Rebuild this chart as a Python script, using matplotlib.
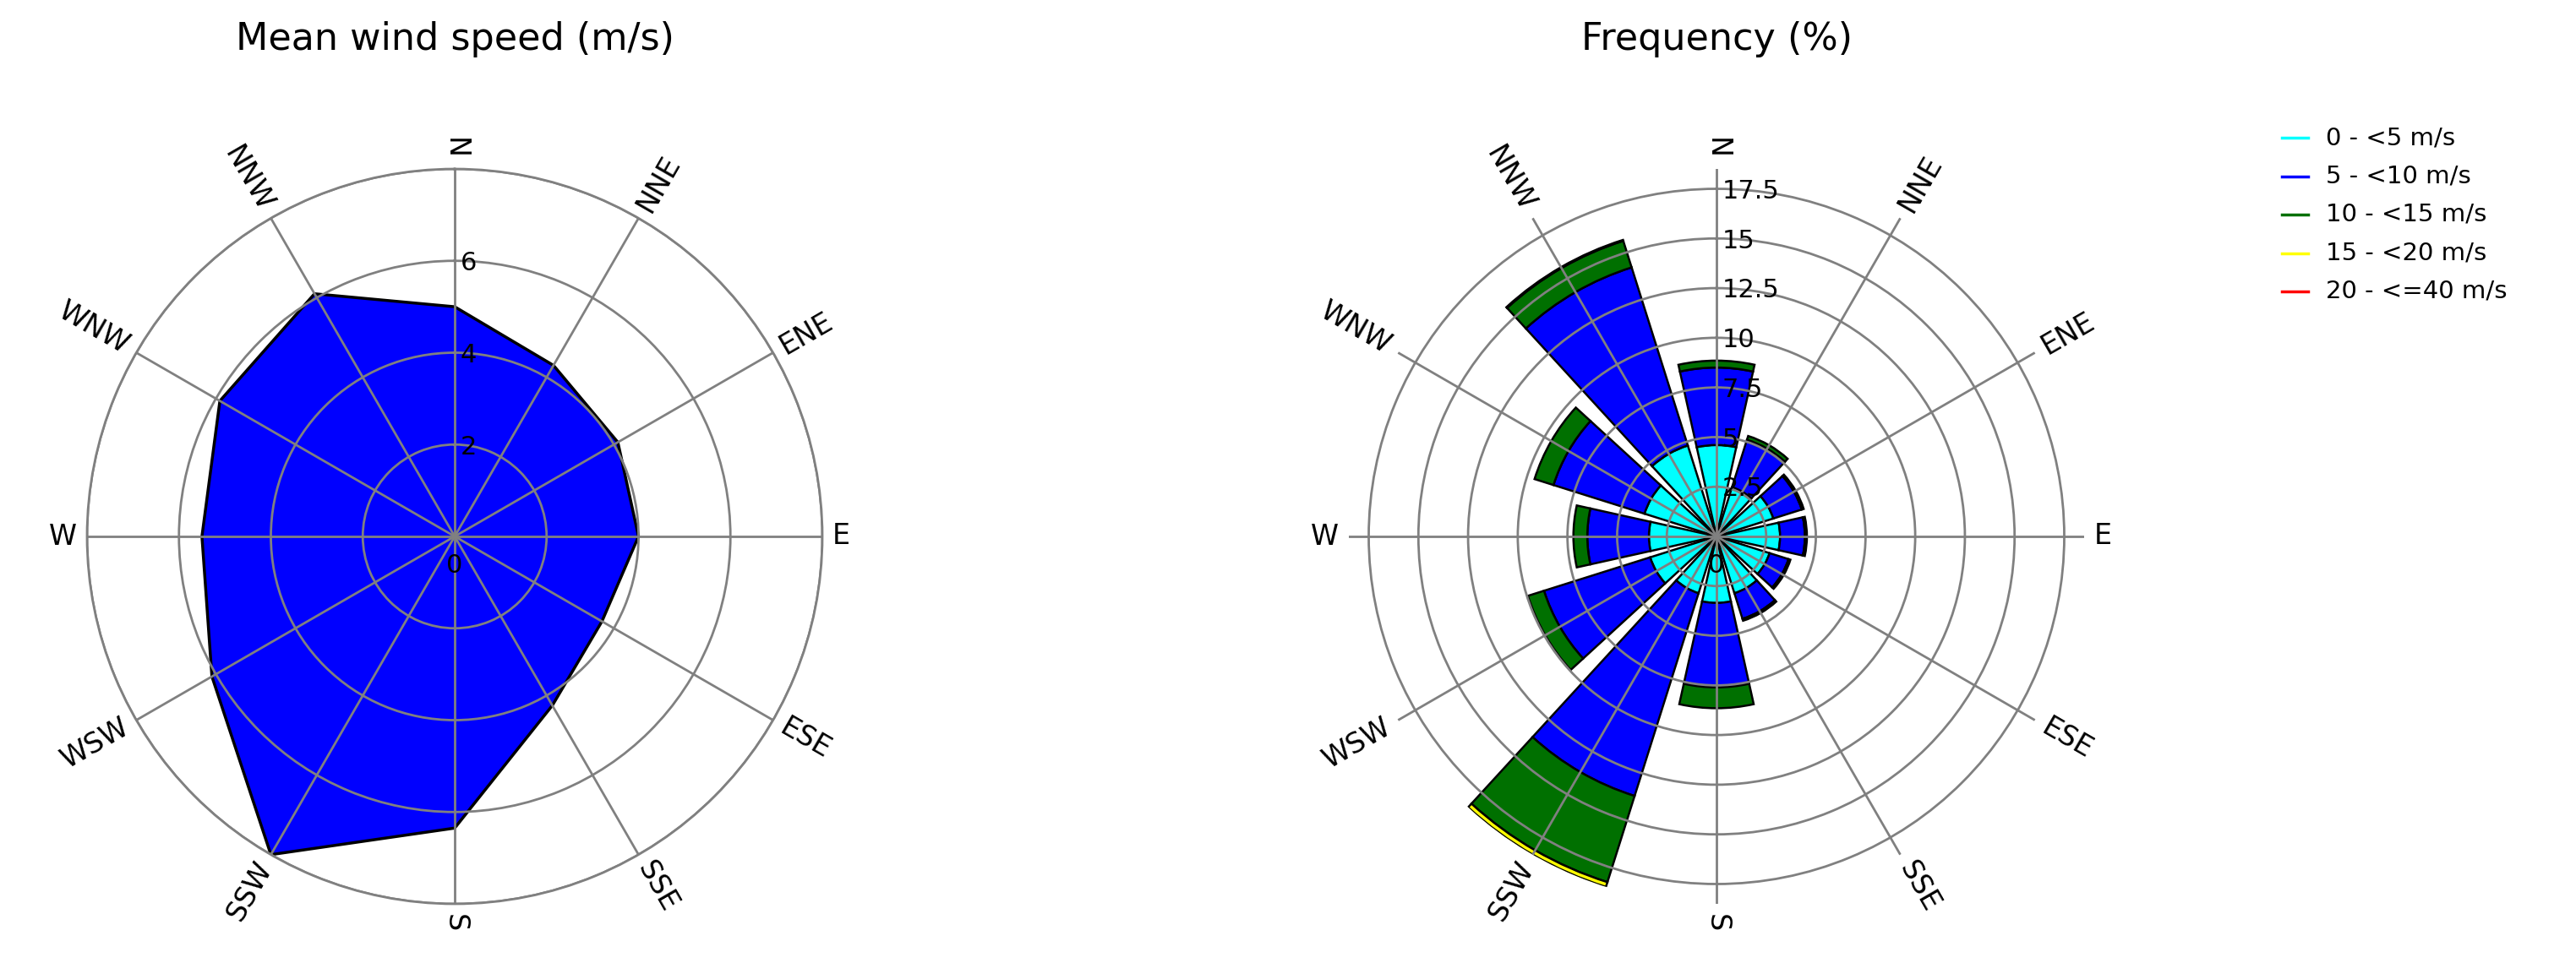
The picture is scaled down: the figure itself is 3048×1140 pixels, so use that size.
import numpy as np
import matplotlib.pyplot as plt
from matplotlib.lines import Line2D


# sectors, clockwise from north
directions = ['N', 'NNE', 'ENE', 'E', 'ESE', 'SSE', 'S', 'SSW', 'WSW', 'W', 'WNW', 'NNW']
bearings = [0, 30, 60, 90, 120, 150, 180, 210, 240, 270, 300, 330]

# left panel: mean wind speed per sector (m/s)
mean_speed = [5.0, 4.3, 4.1, 4.0, 3.7, 4.25, 6.35, 8.0, 6.1, 5.5, 5.9, 6.1]
speed_ticks = [2, 4, 6, 8]
speed_tick_labels = ['0', '2', '4', '6']

# right panel: frequency (%) per speed class and sector
freq_0_5 = [4.6, 2.6, 3.0, 3.2, 2.8, 3.0, 3.35, 3.0, 3.5, 3.4, 3.8, 4.8]
freq_5_10 = [3.9, 2.5, 1.5, 1.25, 1.0, 1.35, 4.25, 10.7, 5.6, 3.1, 4.8, 9.4]
freq_10_15 = [0.35, 0.2, 0.1, 0.1, 0.1, 0.1, 1.05, 4.55, 0.85, 0.7, 1.0, 1.4]
freq_15_20 = [0, 0, 0, 0, 0, 0, 0, 0.25, 0, 0, 0, 0.05]
freq_20_40 = [0, 0, 0, 0, 0, 0, 0, 0, 0, 0, 0, 0]
freq_ticks = [2.5, 5, 7.5, 10, 12.5, 15, 17.5]
freq_tick_labels = ['2.5', '5', '7.5', '10', '12.5', '15', '17.5']

class_labels = ['0 - <5 m/s', '5 - <10 m/s', '10 - <15 m/s', '15 - <20 m/s', '20 - <=40 m/s']
class_colors = ['#00ffff', '#0000ff', '#007000', '#ffff00', '#ff0000']

GRID = '#808080'
W, H = 3048, 1140


def setup_polar(ax, rmax, rings):
    ax.set_theta_zero_location('N')
    ax.set_theta_direction(-1)
    ax.set_ylim(0, rmax)
    ax.set_yticks(rings)
    ax.set_yticklabels([])
    ax.set_xticks(np.deg2rad(bearings))
    ax.set_xticklabels([])
    ax.grid(True, color=GRID, lw=2)
    ax.set_axisbelow(False)


def direction_labels(ax):
    for b, name in zip(bearings, directions):
        rad = np.deg2rad(b)
        ux, uy = np.sin(rad), np.cos(rad)
        rot = ((90 - b + 90) % 180) - 90
        bx, by = np.cos(np.deg2rad(rot)), np.sin(np.deg2rad(rot))
        ha = 'left' if bx * ux + by * uy > 1e-6 else 'right'
        if b == 0:
            ha = 'right'
        ax.text(0.5 + 0.5138 * ux, 0.5 + 0.5138 * uy, name, transform=ax.transAxes,
                rotation=rot, rotation_mode='anchor', ha=ha, va='center',
                fontsize=24, clip_on=False)


def radial_labels(ax, ticks, labels):
    ax.annotate(labels[0], xy=(0, 0), xytext=(0, -25), textcoords='offset points',
                ha='center', va='center', fontsize=22, zorder=5)
    for v, lab in zip(ticks, labels[1:]):
        ax.annotate(lab, xy=(0, v), xytext=(5, -2), textcoords='offset points',
                    ha='left', va='center', fontsize=22, zorder=5)


fig = plt.figure(figsize=(W / 100, H / 100), dpi=100)

# ---- mean wind speed ----
cx1, cx2, cy, rad = 538, 2031, 635, 435
ax1 = fig.add_axes([(cx1 - rad) / W, (H - cy - rad) / H, 2 * rad / W, 2 * rad / H], projection='polar')
setup_polar(ax1, 8, speed_ticks)
theta = np.deg2rad(bearings)
ax1.fill(np.append(theta, theta[0]), np.append(mean_speed, mean_speed[0]),
         facecolor='#0000ff', edgecolor='black', lw=2.5, zorder=1)
ax1.spines['polar'].set_color(GRID)
ax1.spines['polar'].set_linewidth(2)
direction_labels(ax1)
radial_labels(ax1, speed_ticks[:-1], speed_tick_labels)
fig.text(cx1 / W, 1 - 47 / H, 'Mean wind speed (m/s)', ha='center', va='center', fontsize=32)

# ---- frequency rose ----
ax2 = fig.add_axes([(cx2 - rad) / W, (H - cy - rad) / H, 2 * rad / W, 2 * rad / H], projection='polar')
classes = [freq_0_5, freq_5_10, freq_10_15, freq_15_20, freq_20_40]
bottom = np.zeros(len(bearings))
for vals, col in zip(classes, class_colors):
    vals = np.array(vals, dtype=float)
    m = vals > 0
    if m.any():
        ax2.bar(theta[m], vals[m], width=np.deg2rad(25), bottom=bottom[m], color=col,
                edgecolor='black', lw=1.8, zorder=1)
    bottom += vals
setup_polar(ax2, bottom.max(), freq_ticks)
ax2.spines['polar'].set_visible(False)
direction_labels(ax2)
radial_labels(ax2, freq_ticks, ['0'] + freq_tick_labels)
fig.text(cx2 / W, 1 - 47 / H, 'Frequency (%)', ha='center', va='center', fontsize=32)

# ---- legend ----
for i, (lab, col) in enumerate(zip(class_labels, class_colors)):
    y = 1 - (163 + 45.5 * i) / H
    fig.add_artist(Line2D([2700 / W, 2731 / W], [y, y], color=col, lw=2.5, transform=fig.transFigure))
    fig.text(2752 / W, y, lab, ha='left', va='center', fontsize=21)

fig.savefig('out.png', dpi=100, facecolor='white')
